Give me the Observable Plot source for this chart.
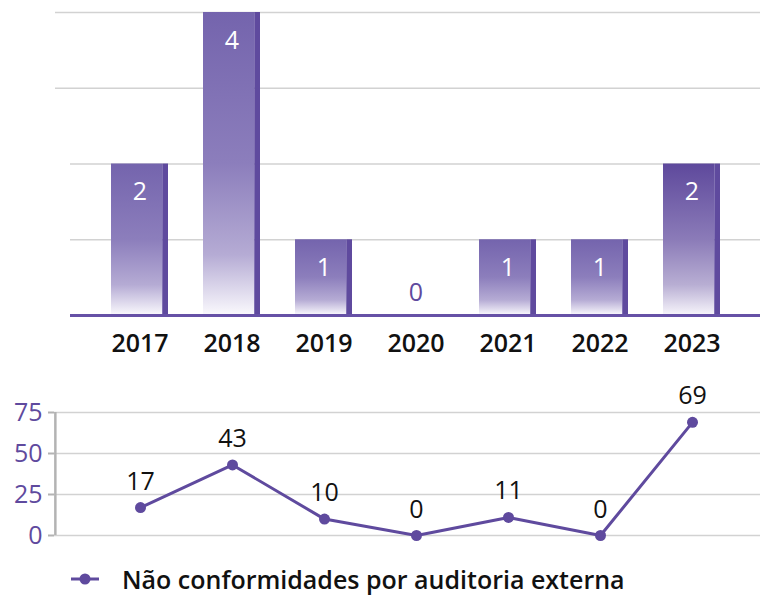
<!DOCTYPE html>
<html>
<head>
<meta charset="utf-8">
<script src="https://cdn.jsdelivr.net/npm/d3@7"></script>
<script src="https://cdn.jsdelivr.net/npm/@observablehq/plot@0.6"></script>
<style>
  html, body { margin: 0; padding: 0; background: #fff; }
  #wrap { position: relative; width: 760px; height: 597px; font-family: 'Open Sans', sans-serif; }
  #topChart { position: absolute; left: 0; top: 0; }
  #botChart { position: absolute; left: 0; top: 370px; }
  #legend { position: absolute; left: 0; top: 560px; width: 760px; height: 37px; display: flex; align-items: center; }
  #legend svg { margin-left: 70px; }
  #legend span { margin-left: 22px; font-size: 25px; font-weight: 600; color: #111; }
</style>
</head>
<body>
<div id="wrap">
  <div id="topChart"></div>
  <div id="botChart"></div>
  <div id="legend"></div>
</div>
<script>
// ---- data ----
const years = ["2017", "2018", "2019", "2020", "2021", "2022", "2023"];
const incidents = [2, 4, 1, 0, 1, 1, 2];
const nonConformities = [17, 43, 10, 0, 11, 0, 69];
const barTicks = [1, 2, 3, 4];
const lineTicks = [0, 25, 50, 75];
const highlightYear = "2023";
const legendLabel = "Não conformidades por auditoria externa";

const purple = "#5f4a9e";
const font = "'Open Sans', sans-serif";

const bars = years.map((year, i) => ({year, value: incidents[i]}));
const points = years.map((year, i) => ({year, value: nonConformities[i]}));

// gradient definitions
function gradDefs() {
  const ns = "http://www.w3.org/2000/svg";
  const defs = document.createElementNS(ns, "defs");
  const mk = (id, stops) => {
    const g = document.createElementNS(ns, "linearGradient");
    g.setAttribute("id", id);
    g.setAttribute("x1", "0"); g.setAttribute("y1", "0");
    g.setAttribute("x2", "0"); g.setAttribute("y2", "1");
    stops.forEach(([o, c]) => {
      const s = document.createElementNS(ns, "stop");
      s.setAttribute("offset", o);
      s.setAttribute("stop-color", c);
      g.appendChild(s);
    });
    defs.appendChild(g);
  };
  mk("barGrad", [[0, "#7464ad"], [0.5, "#8c7ebc"], [0.8, "#b5abd4"], [1, "#faf9fd"]]);
  mk("barGradHi", [[0, "#5e499c"], [0.5, "#8b7bb8"], [0.8, "#b8aed3"], [1, "#f7f5fb"]]);
  return defs;
}

const W = 760;
const rangeLeft = 93, rangeRight = 739;
const step = (rangeRight - rangeLeft) / years.length;
const padInner = 0.38;
const bw = (1 - padInner) * step;
const edge = 6;

const topPlot = Plot.plot({
  width: W,
  height: 370,
  marginLeft: 55,
  marginRight: 0,
  marginTop: 12,
  marginBottom: 55,
  style: {fontFamily: font, background: "transparent"},
  x: {type: "band", domain: years, paddingInner: padInner, paddingOuter: padInner / 2, insetLeft: rangeLeft - 55, insetRight: W - rangeRight, axis: null},
  y: {domain: [0, 4], axis: null},
  marks: [
    gradDefs,
    Plot.ruleY(barTicks.filter(t => t >= 3), {stroke: "#d2d2d2", strokeWidth: 1.5}),
    Plot.ruleY(barTicks.filter(t => t < 3), {stroke: "#d2d2d2", strokeWidth: 1.5, insetLeft: 15}),
    Plot.barY(bars.filter(d => d.year !== highlightYear), {x: "year", y: "value", fill: "url(#barGrad)", insetRight: edge}),
    Plot.barY(bars.filter(d => d.year === highlightYear), {x: "year", y: "value", fill: "url(#barGradHi)", insetRight: edge}),
    Plot.barY(bars, {x: "year", y: "value", fill: purple, insetLeft: bw - edge}),
    Plot.ruleY([0], {stroke: "#6651a6", strokeWidth: 3, insetLeft: 15}),
    Plot.text(bars.filter(d => d.value > 0), {x: "year", y: "value", text: d => String(d.value), dy: 28, fill: "white", fontSize: 25, fontWeight: 500}),
    Plot.text(bars.filter(d => d.value === 0), {x: "year", y: "value", text: d => String(d.value), dy: -23, fill: purple, fontSize: 25, fontWeight: 500}),
    Plot.text(bars, {x: "year", y: () => 0, text: "year", dy: 28, fill: "#111", fontSize: 25, fontWeight: 600})
  ]
});
document.getElementById("topChart").appendChild(topPlot);

const botLeft = 54;
const botPlot = Plot.plot({
  width: W,
  height: 185,
  marginLeft: botLeft,
  marginRight: 0,
  marginTop: 42,
  marginBottom: 20,
  style: {fontFamily: font, background: "transparent", overflow: "visible"},
  x: {type: "point", domain: years, padding: 0.5, insetLeft: rangeLeft - botLeft, insetRight: W - rangeRight, axis: null},
  y: {domain: [0, 75], axis: null},
  marks: [
    Plot.ruleY(lineTicks, {stroke: "#d2d2d2", strokeWidth: 1.5}),
    Plot.axisY({ticks: lineTicks, label: null, tickSize: 6, tickPadding: 6, stroke: "#b3b3b3", strokeWidth: 2, fill: purple, fontSize: 25, fontWeight: 500, tickFormat: d => String(d)}),
    // vertical axis line at the frame's left edge (offset from the first point by inset + half step)
    Plot.ruleX([years[0]], {x: d => d, y1: lineTicks[0], y2: lineTicks[lineTicks.length - 1], dx: -((rangeLeft - botLeft) + step / 2), stroke: "#b3b3b3", strokeWidth: 2.5}),
    Plot.line(points, {x: "year", y: "value", stroke: purple, strokeWidth: 3}),
    Plot.dot(points, {x: "year", y: "value", r: 5.5, fill: purple}),
    Plot.text(points, {x: "year", y: "value", text: d => String(d.value), dy: -26, fill: "#111", fontSize: 25, fontWeight: 500})
  ]
});
document.getElementById("botChart").appendChild(botPlot);

// legend
const lg = document.getElementById("legend");
lg.innerHTML = `<svg width="30" height="14" viewBox="0 0 30 14"><line x1="1" x2="29" y1="7" y2="7" stroke="${purple}" stroke-width="3"/><circle cx="15" cy="7" r="5.5" fill="${purple}"/></svg><span></span>`;
lg.querySelector("span").textContent = legendLabel;
</script>
</body>
</html>
